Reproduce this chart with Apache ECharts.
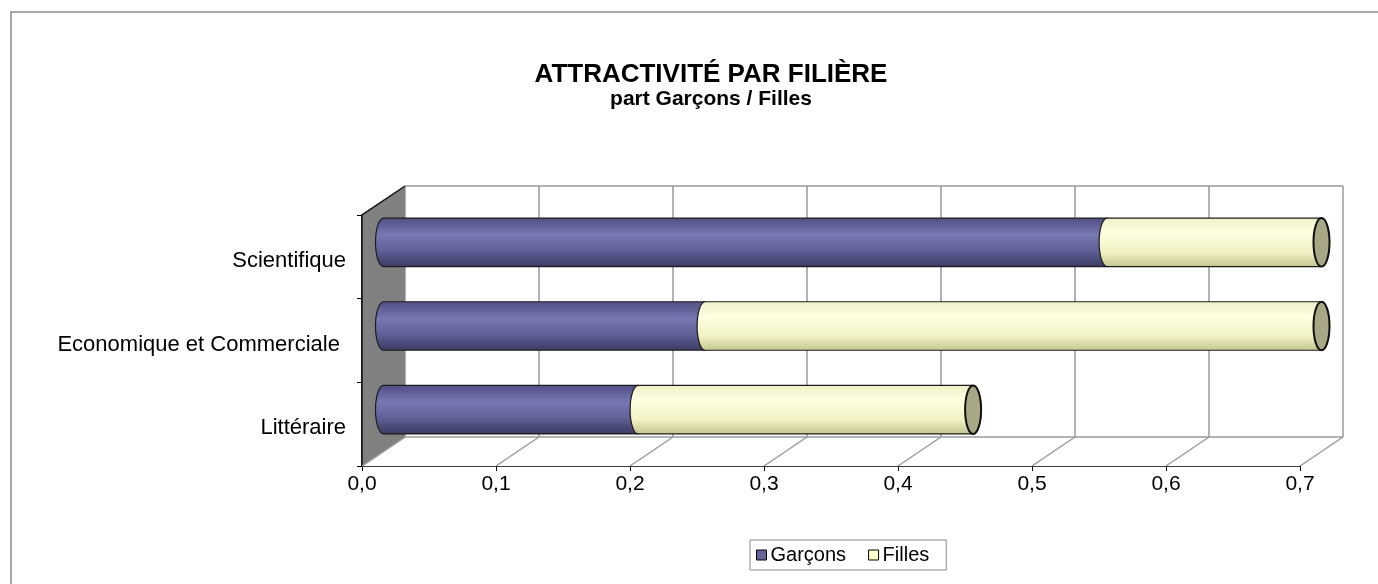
<!DOCTYPE html>
<html>
<head>
<meta charset="utf-8">
<script src="https://cdn.jsdelivr.net/npm/echarts@6/dist/echarts.min.js"></script>
<style>
  html, body { margin: 0; padding: 0; background: #fff; }
  #chart { width: 1378px; height: 584px; }
</style>
</head>
<body>
<div id="chart"></div>
<script>
// données
var categories = ['Scientifique', 'Economique et Commerciale ', 'Littéraire'];
var garcons = [0.54, 0.24, 0.19];
var filles = [0.16, 0.46, 0.25];
var xTicks = [0, 0.1, 0.2, 0.3, 0.4, 0.5, 0.6, 0.7];

var DX = 43, DY = -29; // profondeur 3D en pixels
var FONT = '"Liberation Sans", Arial, sans-serif';

var chart = echarts.init(document.getElementById('chart'));

function grad(stops) {
  return new echarts.graphic.LinearGradient(0, 0, 0, 1, stops);
}
var gradG = grad([
  { offset: 0, color: '#4e4e82' },
  { offset: 0.35, color: '#7878b2' },
  { offset: 0.65, color: '#62629a' },
  { offset: 1, color: '#393960' }
]);
var gradF = grad([
  { offset: 0, color: '#efefc6' },
  { offset: 0.3, color: '#ffffe2' },
  { offset: 0.7, color: '#f2f2c4' },
  { offset: 1, color: '#c4c48e' }
]);

// cylindre horizontal placé à mi-profondeur
function cylinder(api, fill, withCap) {
  var cat = api.value(2);
  var p0 = api.coord([api.value(0), cat]);
  var p1 = api.coord([api.value(1), cat]);
  var band = api.size([0, 1])[1];
  var h = band * 0.58;
  var x0 = p0[0] + DX / 2, x1 = p1[0] + DX / 2;
  var cy = p0[1] + DY / 2;
  var top = cy - h / 2, bot = cy + h / 2;
  var rx = 8, ry = h / 2;
  var d = 'M' + x0 + ' ' + top + ' L' + x1 + ' ' + top +
    ' A' + rx + ' ' + ry + ' 0 0 1 ' + x1 + ' ' + bot +
    ' L' + x0 + ' ' + bot +
    ' A' + rx + ' ' + ry + ' 0 0 1 ' + x0 + ' ' + top + ' Z';
  var children = [{
    type: 'path',
    shape: { pathData: d },
    style: { fill: fill, stroke: '#1c1c1c', lineWidth: 1.2 }
  }];
  if (withCap) {
    children.push({
      type: 'ellipse',
      shape: { cx: x1, cy: cy, rx: rx, ry: ry },
      style: { fill: '#a8a886', stroke: '#111', lineWidth: 2 }
    });
  }
  return { type: 'group', children: children };
}

// murs, sol et quadrillage
function frame(params, api) {
  var band = api.size([0, 1])[1];
  var yTop = api.coord([0, 0])[1] - band / 2;
  var yBot = api.coord([0, categories.length - 1])[1] + band / 2;
  var xl = api.coord([xTicks[0], 0])[0];
  var xr = api.coord([xTicks[xTicks.length - 1], 0])[0];
  var gray = '#9a9a9a';
  var els = [];
  // mur du fond
  els.push({ type: 'rect', shape: { x: xl + DX, y: yTop + DY, width: xr - xl, height: yBot - yTop },
    style: { fill: '#fff' } });
  // sol
  els.push({ type: 'polygon', shape: { points: [[xl, yBot], [xr, yBot], [xr + DX, yBot + DY], [xl + DX, yBot + DY]] },
    style: { fill: '#fff' } });
  xTicks.forEach(function (t) {
    var x = api.coord([t, 0])[0];
    els.push({ type: 'line', shape: { x1: x, y1: yBot, x2: x + DX, y2: yBot + DY },
      style: { stroke: gray, lineWidth: 1.5 } });
    els.push({ type: 'line', shape: { x1: x + DX, y1: yBot + DY, x2: x + DX, y2: yTop + DY },
      style: { stroke: gray, lineWidth: 1.5 } });
  });
  els.push({ type: 'line', shape: { x1: xl + DX, y1: yTop + DY, x2: xr + DX, y2: yTop + DY },
    style: { stroke: gray, lineWidth: 1.5 } });
  els.push({ type: 'line', shape: { x1: xl + DX, y1: yBot + DY, x2: xr + DX, y2: yBot + DY },
    style: { stroke: gray, lineWidth: 1.5 } });
  // mur de gauche
  els.push({ type: 'polygon', shape: { points: [[xl, yTop], [xl + DX, yTop + DY], [xl + DX, yBot + DY], [xl, yBot]] },
    style: { fill: '#808080' } });
  els.push({ type: 'polyline', shape: { points: [[xl, yBot], [xl, yTop], [xl + DX, yTop + DY]] },
    style: { stroke: '#111', lineWidth: 1.5, fill: null } });
  els.push({ type: 'line', shape: { x1: xl, y1: yBot, x2: xl + DX, y2: yBot + DY },
    style: { stroke: gray, lineWidth: 1.5 } });
  return { type: 'group', children: els };
}

var gData = garcons.map(function (v, i) { return [0, v, i]; });
var fData = filles.map(function (v, i) { return [garcons[i], garcons[i] + v, i]; });

chart.setOption({
  backgroundColor: '#fff',
  animation: false,
  textStyle: { fontFamily: FONT },
  title: {
    text: '{a|ATTRACTIVITÉ PAR FILIÈRE}\n{b|part Garçons / Filles}',
    left: 706, top: 57, textAlign: 'center',
    textStyle: {
      fontFamily: FONT,
      rich: {
        a: { fontSize: 26, fontWeight: 'bold', color: '#000', lineHeight: 26, fontFamily: FONT },
        b: { fontSize: 21, fontWeight: 'bold', color: '#000', lineHeight: 23, fontFamily: FONT }
      }
    }
  },
  graphic: [{
    type: 'rect', shape: { x: 11, y: 12, width: 1420, height: 620 },
    style: { fill: null, stroke: '#8a8a8a', lineWidth: 1.5 }, silent: true
  }],
  legend: {
    left: 750, top: 540,
    orient: 'horizontal',
    borderColor: '#8a8a8a', borderWidth: 1,
    padding: [5, 17, 5, 6],
    itemGap: 22, itemWidth: 10, itemHeight: 10,
    icon: 'rect',
    textStyle: { fontSize: 20, color: '#000', padding: [0, 0, 0, -1] },
    data: [
      { name: 'Garçons', itemStyle: { color: '#66669c', borderColor: '#000', borderWidth: 1 } },
      { name: 'Filles', itemStyle: { color: '#ffffcc', borderColor: '#000', borderWidth: 1 } }
    ]
  },
  grid: { left: 362, top: 215, right: 78, bottom: 118 },
  xAxis: {
    type: 'value', min: 0, max: 0.7, interval: 0.1,
    axisLine: { show: true, lineStyle: { color: '#000', width: 1.5 } },
    axisTick: { show: true, length: 5, lineStyle: { color: '#000' } },
    splitLine: { show: false },
    axisLabel: {
      margin: 8, fontSize: 21, color: '#000',
      formatter: function (v) { return v.toFixed(1).replace('.', ','); }
    }
  },
  yAxis: {
    type: 'category', inverse: true, data: categories,
    axisLine: { show: true, lineStyle: { color: '#000', width: 1.5 } },
    axisTick: { show: true, length: 5, lineStyle: { color: '#000' } },
    axisLabel: { margin: 16, fontSize: 22, color: '#000', verticalAlign: 'top', lineHeight: 8 }
  },
  series: [
    {
      name: 'frame', type: 'custom', z: 1, silent: true,
      data: [[0, 0, 0]], encode: { x: 0, y: 2 },
      renderItem: frame
    },
    {
      name: 'Garçons', type: 'custom', z: 2,
      itemStyle: { color: '#66669c' },
      data: gData, encode: { x: [0, 1], y: 2 },
      renderItem: function (params, api) { return cylinder(api, gradG, false); }
    },
    {
      name: 'Filles', type: 'custom', z: 3,
      itemStyle: { color: '#ffffcc' },
      data: fData, encode: { x: [0, 1], y: 2 },
      renderItem: function (params, api) { return cylinder(api, gradF, true); }
    }
  ]
});
</script>
</body>
</html>
